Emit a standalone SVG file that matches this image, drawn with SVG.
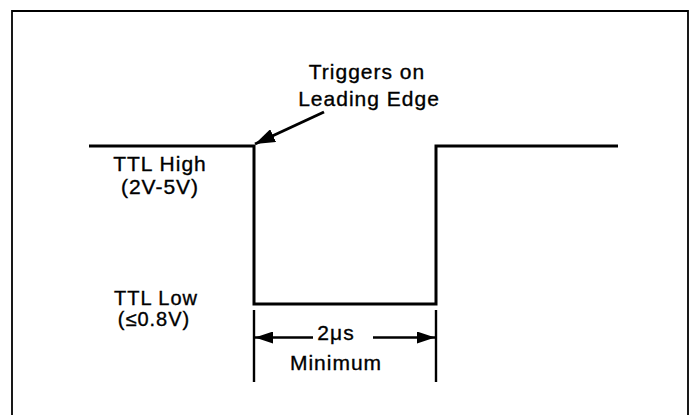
<svg xmlns="http://www.w3.org/2000/svg" width="690" height="415" viewBox="0 0 690 415">
  <style>
    .t { font-family: "Liberation Sans", Arial, sans-serif; font-size: 21px; fill: #000; stroke: #000; stroke-width: 0.35; text-anchor: middle; letter-spacing: 1px; }
    .s { font-size: 20px; }
    .frame { fill: none; stroke: #000; stroke-width: 1.8; }
    .sig { fill: none; stroke: #000; stroke-width: 3; stroke-linejoin: miter; }
    .dim { fill: none; stroke: #000; stroke-width: 2.4; }
    .ar { fill: none; stroke: #000; stroke-width: 3; }
  </style>
  <defs>
    <marker id="ah" viewBox="0 0 10 10" refX="10" refY="5" markerWidth="20" markerHeight="14" markerUnits="userSpaceOnUse" orient="auto" preserveAspectRatio="none">
      <path d="M0,0 L10,5 L0,10 Z" fill="#000"/>
    </marker>
    <marker id="dh" viewBox="0 0 10 10" refX="10" refY="5" markerWidth="18" markerHeight="12" markerUnits="userSpaceOnUse" orient="auto" preserveAspectRatio="none">
      <path d="M0,0 L10,5 L0,10 Z" fill="#000"/>
    </marker>
  </defs>
  <rect width="690" height="415" fill="#fff"/>
  <path class="frame" d="M12,415 V11 H688 V415"/>

  <g id="signal">
    <path class="sig" d="M89,146 H254 V304 H436 V146 H618"/>
  </g>

  <g id="label-trigger">
    <text class="t" x="367" y="79">Triggers on</text>
    <text class="t" x="369" y="106">Leading Edge</text>
  </g>
  <g id="label-high">
    <text class="t" x="160" y="171">TTL High</text>
    <text class="t" x="160" y="194">(2V-5V)</text>
  </g>
  <g id="label-low">
    <text class="t s" x="156" y="305">TTL Low</text>
    <text class="t s" x="154" y="326">(≤0.8V)</text>
  </g>
  <g id="label-width">
    <text class="t" x="336" y="340">2μs</text>
    <text class="t" x="336" y="370">Minimum</text>
  </g>

  <g id="connectors">
    <path class="ar" d="M324,112 L255,144" marker-end="url(#ah)"/>
    <path class="dim" d="M254,310 V382 M436,310 V382"/>
    <path class="dim" d="M313,337.5 H255" marker-end="url(#dh)"/>
    <path class="dim" d="M373,337.5 H435" marker-end="url(#dh)"/>
  </g>
</svg>
